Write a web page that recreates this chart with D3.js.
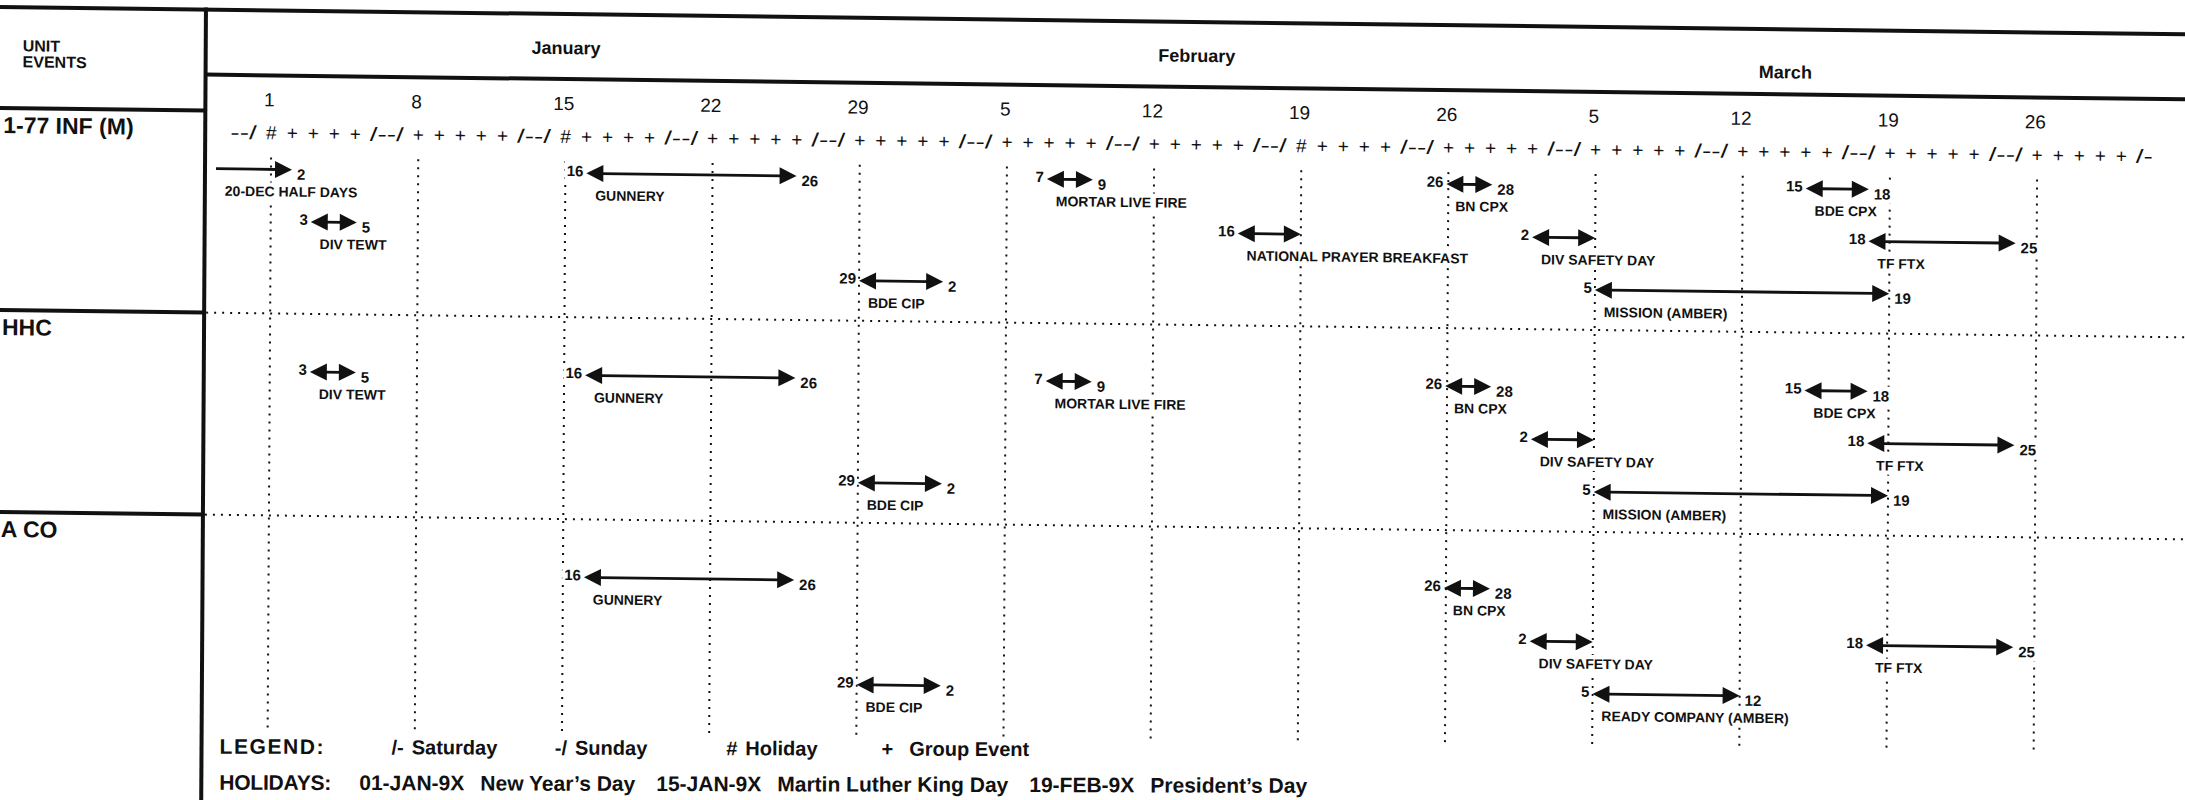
<!DOCTYPE html>
<html lang="en">
<head>
<meta charset="UTF-8">
<title>Unit Events Training Calendar</title>
<style>
  body { margin: 0; background: #fff; }
  svg { display: block; font-family: "Liberation Sans", Arial, sans-serif; }
  .thick { stroke: #111; stroke-width: 4; }
  .dots { stroke: #111; stroke-width: 2; stroke-dasharray: 2 6; }
  .bold { font-weight: bold; fill: #111; }
</style>
</head>
<body>
<svg id="calendar" width="2185" height="800"></svg>
<script src="https://d3js.org/d3.v7.min.js"></script>
<script>
const width = 2185, height = 800;
const parse = d3.timeParse("%Y-%m-%d");
const fmt = d3.timeFormat("%Y-%m-%d");
const dayOf = d3.timeFormat("%-d");

// ---- data ----
const units = ["1-77 INF (M)", "HHC", "A CO"];
const months = ["January", "February", "March"];
const monthMid = ["1990-01-15", "1990-02-14", "1990-03-14"];
const mondays = ["1990-01-01", "1990-01-08", "1990-01-15", "1990-01-22", "1990-01-29",
                 "1990-02-05", "1990-02-12", "1990-02-19", "1990-02-26",
                 "1990-03-05", "1990-03-12", "1990-03-19", "1990-03-26"];
const calendarSpan = ["1989-12-30", "1990-03-31"];
const holidays = ["1990-01-01", "1990-01-15", "1990-02-19"];
const holidayCodes = ["01-JAN-9X", "15-JAN-9X", "19-FEB-9X"];
const holidayNames = ["New Year\u2019s Day", "Martin Luther King Day", "President\u2019s Day"];
const legendSymbols = ["/-", "-/", "#", "+"];
const legendLabels = ["Saturday", "Sunday", "Holiday", "Group Event"];

// unit, line, start, end, label, show start no., show end no.
const events = [
  ["1-77 INF (M)", 0, "1989-12-20", "1990-01-02", "20-DEC HALF DAYS", false, true],
  ["1-77 INF (M)", 0, "1990-01-16", "1990-01-26", "GUNNERY", true, true],
  ["1-77 INF (M)", 1, "1990-01-03", "1990-01-05", "DIV TEWT", true, true],
  ["1-77 INF (M)", 2, "1990-01-29", "1990-02-02", "BDE CIP", true, true],
  ["1-77 INF (M)", 0, "1990-02-07", "1990-02-09", "MORTAR LIVE FIRE", true, true],
  ["1-77 INF (M)", 1, "1990-02-16", "1990-02-19", "NATIONAL PRAYER BREAKFAST", true, false],
  ["1-77 INF (M)", 0, "1990-02-26", "1990-02-28", "BN CPX", true, true],
  ["1-77 INF (M)", 1, "1990-03-02", "1990-03-05", "DIV SAFETY DAY", true, false],
  ["1-77 INF (M)", 2, "1990-03-05", "1990-03-19", "MISSION (AMBER)", true, true],
  ["1-77 INF (M)", 0, "1990-03-15", "1990-03-18", "BDE CPX", true, true],
  ["1-77 INF (M)", 1, "1990-03-18", "1990-03-25", "TF  FTX", true, true],
  ["HHC", 0, "1990-01-03", "1990-01-05", "DIV TEWT", true, true],
  ["HHC", 0, "1990-01-16", "1990-01-26", "GUNNERY", true, true],
  ["HHC", 2, "1990-01-29", "1990-02-02", "BDE CIP", true, true],
  ["HHC", 0, "1990-02-07", "1990-02-09", "MORTAR LIVE FIRE", true, true],
  ["HHC", 0, "1990-02-26", "1990-02-28", "BN CPX", true, true],
  ["HHC", 1, "1990-03-02", "1990-03-05", "DIV SAFETY DAY", true, false],
  ["HHC", 2, "1990-03-05", "1990-03-19", "MISSION (AMBER)", true, true],
  ["HHC", 0, "1990-03-15", "1990-03-18", "BDE CPX", true, true],
  ["HHC", 1, "1990-03-18", "1990-03-25", "TF  FTX", true, true],
  ["A CO", 0, "1990-01-16", "1990-01-26", "GUNNERY", true, true],
  ["A CO", 2, "1990-01-29", "1990-02-02", "BDE CIP", true, true],
  ["A CO", 0, "1990-02-26", "1990-02-28", "BN CPX", true, true],
  ["A CO", 1, "1990-03-02", "1990-03-05", "DIV SAFETY DAY", true, false],
  ["A CO", 2, "1990-03-05", "1990-03-12", "READY COMPANY (AMBER)", true, true],
  ["A CO", 1, "1990-03-18", "1990-03-25", "TF  FTX", true, true]
];

// ---- layout ----
const left = 206;
const monthNudge = [0, 0, 9];   // March sits lower on the sheet
const x = d3.scaleTime()
  .domain([parse(mondays[0]), parse(mondays[mondays.length - 1])])
  .range([272, 2038]);
const dayW = x(parse("1990-01-02")) - x(parse("1990-01-01"));
const y = d3.scaleBand().domain(units).range([108, 714]);
const line = d3.scaleLinear().domain([0, 2]).range([58, 162]);

const svg = d3.select("#calendar");
svg.append("rect").attr("width", width).attr("height", height).attr("fill", "#fff");
// the page was scanned a little crooked
const g = svg.append("g").attr("transform", "matrix(1,0.0125,-0.006,1,0,0)");
const lg = svg.append("g").attr("transform", "matrix(1,0.003,-0.006,1,0,0)");

// white box behind typed text, like the original
function boxed(sel) {
  sel.each(function() {
    const b = this.getBBox();
    d3.select(this.parentNode).insert("rect", () => this)
      .attr("x", b.x - 2).attr("y", b.y - 1)
      .attr("width", b.width + 4).attr("height", b.height + 2)
      .attr("fill", "#fff");
  });
  return sel;
}

// grid
g.selectAll(".vgrid").data(mondays).join("line")
  .attr("class", "dots")
  .attr("x1", d => x(parse(d))).attr("x2", d => x(parse(d)))
  .attr("y1", 154).attr("y2", 728);

g.selectAll(".hgrid").data(units.slice(1)).join("line")
  .attr("class", "dots")
  .attr("x1", left + 2).attr("x2", 2215)
  .attr("y1", d => y(d)).attr("y2", d => y(d));

// frame
g.append("line").attr("class", "thick").attr("x1", 0).attr("x2", 2215).attr("y1", 7).attr("y2", 7);
g.append("line").attr("class", "thick").attr("x1", left).attr("x2", 2215).attr("y1", 72).attr("y2", 72);
g.append("line").attr("class", "thick").attr("x1", left).attr("x2", left).attr("y1", 5).attr("y2", 820);
g.selectAll(".unitline").data(units).join("line")
  .attr("class", "thick")
  .attr("x1", 0).attr("x2", left)
  .attr("y1", d => y(d)).attr("y2", d => y(d));

// header texts
g.append("text").attr("class", "bold").attr("x", 23).attr("y", 51).attr("font-size", 16).text("UNIT");
g.append("text").attr("class", "bold").attr("x", 23).attr("y", 67).attr("font-size", 16).text("EVENTS");

g.selectAll(".month").data(months).join("text")
  .attr("class", "bold")
  .attr("x", (d, i) => x(parse(monthMid[i])))
  .attr("y", (d, i) => 47 + monthNudge[i])
  .attr("text-anchor", "middle")
  .attr("font-size", 18)
  .text(d => d);

g.selectAll(".daynum").data(mondays).join("text")
  .attr("x", d => x(parse(d)) - 2)
  .attr("y", 103)
  .attr("text-anchor", "middle")
  .attr("font-size", 19)
  .attr("fill", "#111")
  .text(d => dayOf(parse(d)));

// day symbol row: "/-" Saturday, "-/" Sunday, "#" holiday, "+" group event
const holidaySet = new Set(holidays);
const days = d3.timeDay.range(parse(calendarSpan[0]), d3.timeDay.offset(parse(calendarSpan[1]), 1));
const symbol = d => holidaySet.has(fmt(d)) ? "#" : d.getDay() === 6 ? "/-" : d.getDay() === 0 ? "-/" : "+";
g.append("clipPath").attr("id", "rowclip")
  .append("rect").attr("x", 232).attr("y", 110).attr("width", 2000).attr("height", 40);
const sym = g.append("g").attr("clip-path", "url(#rowclip)")
  .selectAll("text").data(days).join("text")
  .attr("y", 136)
  .attr("font-size", 19)
  .attr("fill", "#111")
  .text(symbol);
sym.filter(d => d.getDay() >= 1 && d.getDay() <= 5)
  .attr("x", d => x(d)).attr("text-anchor", "middle");
sym.filter(d => d.getDay() === 6)
  .attr("x", d => x(d) + dayW / 2).attr("text-anchor", "end")
  .attr("textLength", 17).attr("lengthAdjust", "spacingAndGlyphs");
sym.filter(d => d.getDay() === 0)
  .attr("x", d => x(d) - dayW / 2).attr("text-anchor", "start")
  .attr("textLength", 17).attr("lengthAdjust", "spacingAndGlyphs");

// units
g.selectAll(".unit").data(units).join("text")
  .attr("class", "bold")
  .attr("x", 4)
  .attr("y", d => y(d) + 25)
  .attr("font-size", 23)
  .text(d => d);

// events
const ev = events.map(([unit, row, start, end, label, showStart, showEnd]) => {
  let x1 = Math.max(x(parse(start)), left + 11), x2 = x(parse(end));
  if (x2 - x1 < 46) { const m = (x1 + x2) / 2; x1 = m - 23; x2 = m + 23; }
  return {unit, row, start, end, label, showStart, showEnd, x1, x2,
          cy: y(unit) + line(row), twoHeads: parse(start) >= x.domain()[0]};
});

const evg = g.append("g").selectAll("g").data(ev).join("g");

evg.append("text").attr("class", "bold").attr("font-size", 14)
  .attr("x", d => d.x1 + 9).attr("y", d => d.cy + 27)
  .text(d => d.label)
  .call(boxed);

evg.filter(d => d.showStart).append("text").attr("class", "bold").attr("font-size", 15)
  .attr("x", d => d.x1 - 3).attr("y", d => d.cy + 3)
  .attr("text-anchor", "end")
  .text(d => dayOf(parse(d.start)))
  .call(boxed);

evg.filter(d => d.showEnd).append("text").attr("class", "bold").attr("font-size", 15)
  .attr("x", d => d.x2 + 5).attr("y", d => d.cy + 10)
  .text(d => dayOf(parse(d.end)))
  .call(boxed);

const head = 17, hw = 8.5;
evg.append("line")
  .attr("x1", d => d.twoHeads ? d.x1 + head - 2 : d.x1)
  .attr("x2", d => d.x2 - head + 2)
  .attr("y1", d => d.cy).attr("y2", d => d.cy)
  .attr("stroke", "#111").attr("stroke-width", 2.8);
evg.append("path")
  .attr("fill", "#111")
  .attr("d", d => `M${d.x2},${d.cy}L${d.x2 - head},${d.cy - hw}L${d.x2 - head},${d.cy + hw}Z`);
evg.filter(d => d.twoHeads).append("path")
  .attr("fill", "#111")
  .attr("d", d => `M${d.x1},${d.cy}L${d.x1 + head},${d.cy - hw}L${d.x1 + head},${d.cy + hw}Z`);

// legend
lg.append("text").attr("class", "bold").attr("x", 224).attr("y", 753).attr("font-size", 21)
  .attr("textLength", 104).text("LEGEND:");
const lx = d3.scaleLinear().domain([0, legendLabels.length - 1]).range([396, 886]);
const leg = lg.selectAll(".leg").data(legendLabels).join("text")
  .attr("class", "bold").attr("font-size", 20)
  .attr("x", (d, i) => lx(i) + (i === 2 ? 8 : 0)).attr("y", 753);
leg.append("tspan").text((d, i) => legendSymbols[i]);
leg.append("tspan").attr("dx", (d, i) => i === 3 ? 16 : 8).text(d => d);

lg.append("text").attr("class", "bold").attr("x", 224).attr("y", 789).attr("font-size", 21)
  .attr("textLength", 112).text("HOLIDAYS:");
let hx = 364;
holidayCodes.forEach((code, i) => {
  const t1 = lg.append("text").attr("class", "bold").attr("font-size", 21)
    .attr("x", hx).attr("y", 789).text(code);
  hx += t1.node().getComputedTextLength() + 16;
  const t2 = lg.append("text").attr("class", "bold").attr("font-size", 21)
    .attr("x", hx).attr("y", 789).text(holidayNames[i]);
  hx += t2.node().getComputedTextLength() + 21;
});
</script>
</body>
</html>
